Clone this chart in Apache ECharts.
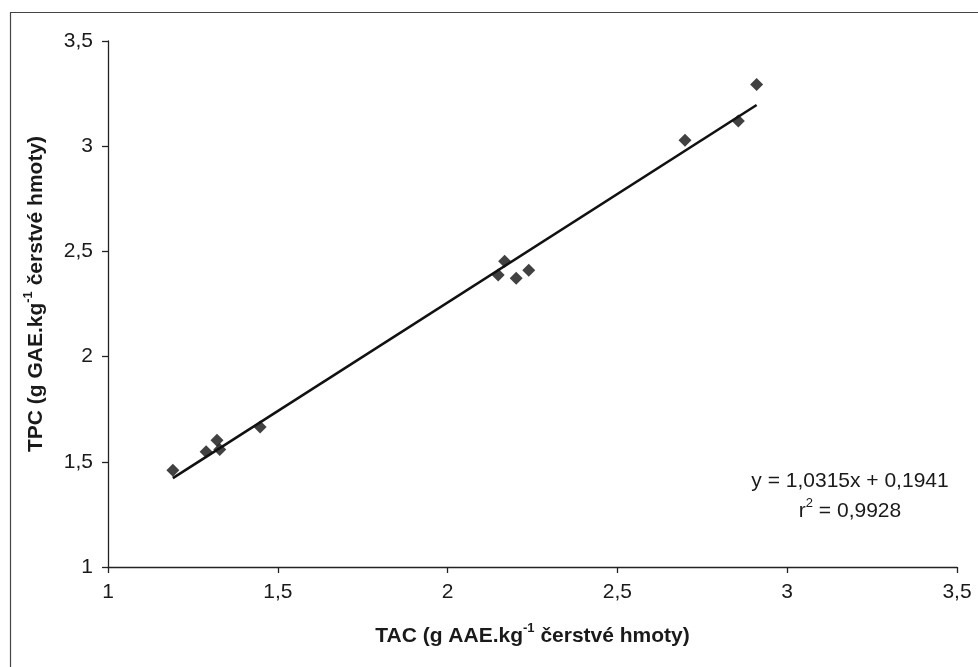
<!DOCTYPE html>
<html>
<head>
<meta charset="utf-8">
<script src="https://cdn.jsdelivr.net/npm/echarts@6/dist/echarts.min.js"></script>
<style>
html,body{margin:0;padding:0;background:#fff;}
#c{width:978px;height:667px;}
</style>
</head>
<body>
<div id="c"></div>
<script>
// Data
var tac = [1.191, 1.289, 1.321, 1.329, 1.448, 2.149, 2.168, 2.202, 2.239, 2.699, 2.856, 2.910];
var tpc = [1.460, 1.548, 1.602, 1.558, 1.665, 2.388, 2.453, 2.372, 2.410, 3.028, 3.120, 3.293];
// Trendline as printed on the chart
var slope = 1.0315;
var intercept = 0.1941;
var r2 = 0.9928;
var xTicks = [1, 1.5, 2, 2.5, 3, 3.5];
var yTicks = [1, 1.5, 2, 2.5, 3, 3.5];

var points = tac.map(function (x, i) { return [x, tpc[i]]; });
var xMin = Math.min.apply(null, tac), xMax = Math.max.apply(null, tac);
var trend = [[xMin, slope * xMin + intercept], [xMax, slope * xMax + intercept]];

function fmt(v) { return String(v).replace('.', ','); }
var FONT = '"Liberation Sans", Arial, sans-serif';
var TXT = '#1a1a1a';
var FS = 21;

var chart = echarts.init(document.getElementById('c'), null, {renderer: 'canvas'});
chart.setOption({
  animation: false,
  backgroundColor: '#fff',
  textStyle: {fontFamily: FONT},
  grid: {left: 108, right: 21, top: 41, bottom: 100, containLabel: false},
  xAxis: {
    type: 'value', min: xTicks[0], max: xTicks[xTicks.length - 1], interval: 0.5,
    splitLine: {show: false},
    axisLine: {onZero: false, lineStyle: {color: '#222', width: 1.3}},
    axisTick: {show: true, length: 6, lineStyle: {color: '#222', width: 1.3}},
    axisLabel: {color: TXT, fontSize: FS, fontFamily: FONT, margin: 15, formatter: fmt},
    name: '{b|TAC (g AAE.kg}{sup|-1}{b| čerstvé hmoty)}',
    nameLocation: 'middle', nameGap: 55,
    nameTextStyle: {
      rich: {
        b: {fontSize: FS, fontWeight: 'bold', color: TXT, fontFamily: FONT},
        sup: {fontSize: 13, fontWeight: 'bold', color: TXT, fontFamily: FONT, padding: [0, 0, 15, 0]}
      }
    }
  },
  yAxis: {
    type: 'value', min: yTicks[0], max: yTicks[yTicks.length - 1], interval: 0.5,
    splitLine: {show: false},
    axisLine: {show: true, onZero: false, lineStyle: {color: '#222', width: 1.3}},
    axisTick: {show: true, length: 6, lineStyle: {color: '#222', width: 1.3}},
    axisLabel: {color: TXT, fontSize: FS, fontFamily: FONT, margin: 15, formatter: fmt},
    name: '{b|TPC (g GAE.kg}{sup|-1}{b| čerstvé hmoty)}',
    nameLocation: 'middle', nameGap: 58, nameRotate: 90,
    nameTextStyle: {
      padding: [0, 0, 0, 20],
      rich: {
        b: {fontSize: FS, fontWeight: 'bold', color: TXT, fontFamily: FONT},
        sup: {fontSize: 13, fontWeight: 'bold', color: TXT, fontFamily: FONT, padding: [0, 0, 15, 0]}
      }
    }
  },
  graphic: [
    {type: 'rect', left: 8, top: 10, z: -1, silent: true,
     shape: {width: 1000, height: 700}, style: {fill: 'none', stroke: '#444', lineWidth: 1.2}},
    {type: 'text', x: 850, y: 481, z: 10,
     style: {text: 'y = ' + fmt(slope) + 'x + ' + fmt(intercept), fill: TXT, font: FS + 'px ' + FONT,
             textAlign: 'center', textVerticalAlign: 'middle'}},
    {type: 'text', x: 850, y: 511, z: 10,
     style: {text: '{r|r}{sup|2}{r| = ' + fmt(r2) + '}', textAlign: 'center', textVerticalAlign: 'middle',
             rich: {r: {fontSize: FS, fill: TXT, fontFamily: FONT},
                    sup: {fontSize: 13, fill: TXT, fontFamily: FONT, padding: [0, 0, 15, 0]}}}}
  ],
  series: [
    {
      type: 'line', data: trend, showSymbol: false, symbol: 'none',
      lineStyle: {color: '#111', width: 2.6}, z: 2, silent: true
    },
    {
      type: 'scatter', data: points, symbol: 'diamond', symbolSize: 13,
      itemStyle: {color: '#111'}, z: 3
    }
  ]
});
</script>
</body>
</html>
